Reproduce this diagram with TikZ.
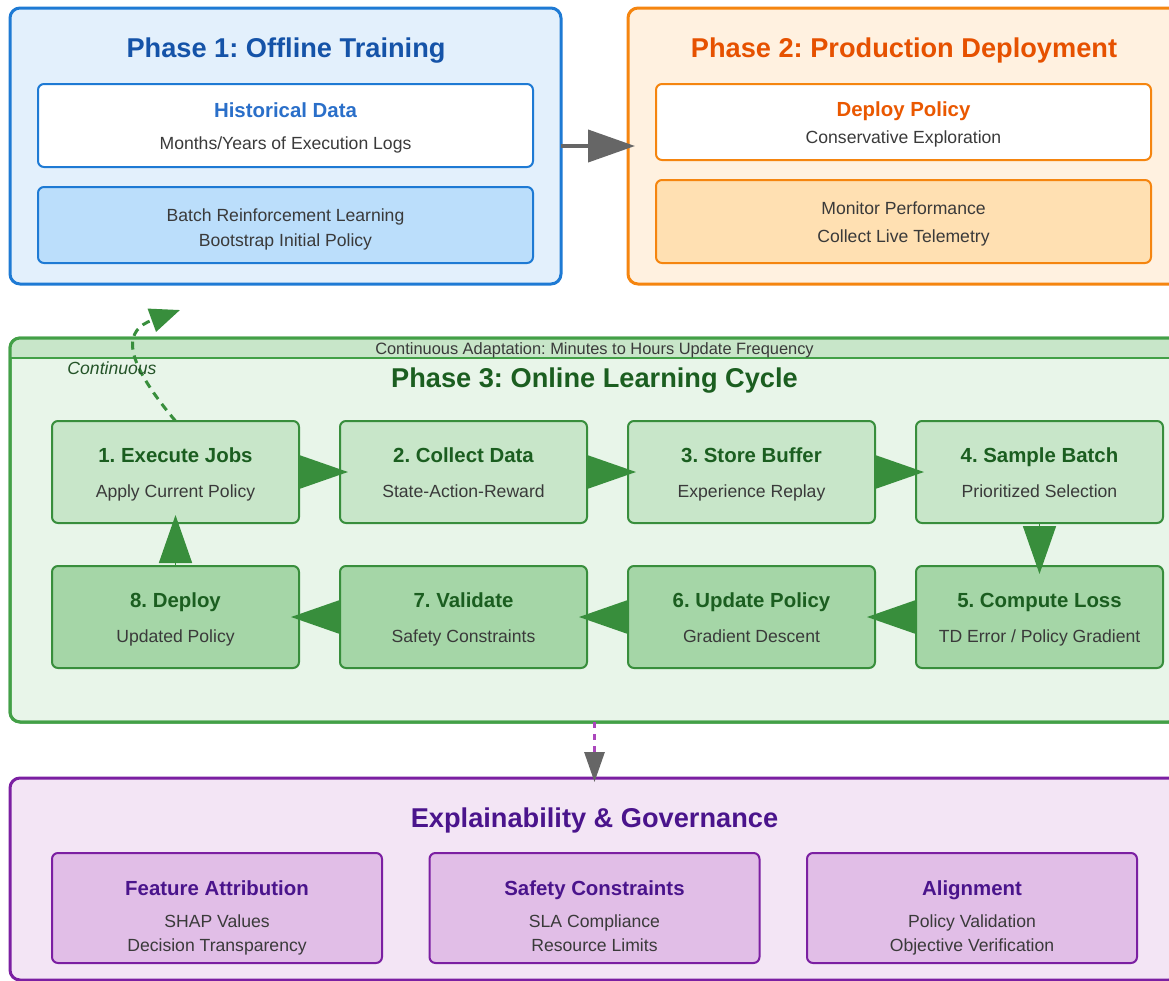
\documentclass[tikz,border=0pt]{standalone}
\usepackage{fontspec}
\setmainfont{Liberation Sans}
\usetikzlibrary{arrows.meta,positioning}
\definecolor{bluebd}{HTML}{1E7AD4}
\definecolor{bluebg}{HTML}{E3F0FC}
\definecolor{bluebox}{HTML}{BBDEFB}
\definecolor{bluetxt}{HTML}{1553A8}
\definecolor{bluesub}{HTML}{2A6FC9}
\definecolor{orabd}{HTML}{F5850F}
\definecolor{orabg}{HTML}{FFF1E0}
\definecolor{orabox}{HTML}{FFE0B2}
\definecolor{oratxt}{HTML}{E65100}
\definecolor{grnbd}{HTML}{43A047}
\definecolor{grnbox}{HTML}{388E3C}
\definecolor{grnbg}{HTML}{E8F5E9}
\definecolor{grnlite}{HTML}{C8E6C9}
\definecolor{grnmid}{HTML}{A5D6A7}
\definecolor{grntxt}{HTML}{1B5E20}
\definecolor{purbd}{HTML}{7B1FA2}
\definecolor{purbg}{HTML}{F3E5F5}
\definecolor{purbox}{HTML}{E1BEE7}
\definecolor{purtxt}{HTML}{4A148C}
\definecolor{purdash}{HTML}{AB47BC}
\definecolor{arrgray}{HTML}{666666}
\definecolor{bodytxt}{HTML}{3A3A3A}
\frenchspacing
\newcommand{\hdfont}{\fontsize{10.2}{12}\selectfont\bfseries}
\newcommand{\cardtitle}[2]{{\hdfont\color{#1}\rule{0pt}{11.4pt}#2\strut}}

\begin{document}
\begin{tikzpicture}[x=0.5pt, y=-0.5pt,
    phase/.style={draw, line width=1.5pt, rounded corners=5pt, inner sep=0pt, outer sep=0pt},
    card/.style={draw, line width=1pt, rounded corners=3pt, inner sep=0pt, outer sep=0pt,
        align=center, text=bodytxt, font=\fontsize{8.8}{12}\selectfont},
    stepbox/.style={card, draw=grnbox, minimum width=123.5pt, minimum height=51pt},
    govbox/.style={card, draw=purbd, fill=purbox, minimum width=165pt, minimum height=55pt},
    govtext/.style={align=center, text=bodytxt, inner sep=0pt, font=\fontsize{8.8}{12}\selectfont},
    ttl/.style={font=\fontsize{13.6}{16}\selectfont\bfseries},
    flow/.style={draw=grnbox, thick, shorten >=-4pt, -{Triangle[length=24pt, width=16.5pt]}}
]
    \useasboundingbox (0,0) rectangle (1169,981);
    \clip (0,0) rectangle (1169,981);
    \fill[white] (0,0) rectangle (1169,981);

    % Phase 1 and Phase 2
    \node[phase, draw=bluebd, fill=bluebg, minimum width=275.5pt, minimum height=138pt] (p1) at (285.5,146) {};
    \node[phase, draw=orabd, fill=orabg, minimum width=276pt, minimum height=138pt] (p2) at (904,146) {};
    \node[ttl, text=bluetxt] (t1) at (286,50.5) {Phase 1: Offline Training};
    \node[ttl, text=oratxt] (t2) at (904,50.5) {Phase 2: Production Deployment};
    \node[card, draw=bluebd, fill=white, minimum width=247.5pt, minimum height=41.5pt] (hist) at (285.5,125.5)
        {\cardtitle{bluesub}{Historical Data}\\[4pt] Months/Years of Execution Logs\strut};
    \node[card, draw=bluebd, fill=bluebox, minimum width=247.5pt, minimum height=38pt] (batch) at (285.5,225)
        {\rule{0pt}{12.4pt}Batch Reinforcement Learning\strut\\[0.5pt] Bootstrap Initial Policy\strut};
    \node[card, draw=orabd, fill=white, minimum width=247.5pt, minimum height=38pt] (dep) at (903.5,122)
        {\cardtitle{oratxt!85!orange}{Deploy Policy}\\[1.5pt] Conservative Exploration\strut};
    \node[card, draw=orabd, fill=orabox, minimum width=247.5pt, minimum height=41.5pt] (mon) at (903.5,221.5)
        {\rule{0pt}{10.4pt}Monitor Performance\strut\\[2pt] Collect Live Telemetry\strut};
    \draw[arrgray, line width=2pt, shorten >=-3.5pt, -{Triangle[length=23.5pt, width=16pt]}] (p1) -- (p2);

    % Phase 3
    \node[phase, draw=grnbd, fill=grnbg, minimum width=584.5pt, minimum height=192pt] (p3) at (594.5,530) {};
    \path (p3.north west) ++(0,20) coordinate (strip);
    \begin{scope}
        \clip[rounded corners=5pt] (p3.south west) rectangle (p3.north east);
        \fill[grnlite] (p3.north west) rectangle (p3.east |- strip);
    \end{scope}
    \draw[grnbd, line width=1pt] (strip) -- (p3.east |- strip);
    \draw[grnbd, line width=1.5pt, rounded corners=5pt] (p3.south west) rectangle (p3.north east);
    \node[font=\fontsize{8.2}{10}\selectfont, text=bodytxt] (freq) at (594.5,350.5)
        {Continuous Adaptation: Minutes to Hours Update Frequency};
    \node[ttl, text=grntxt] (t3) at (594.5,380.5) {Phase 3: Online Learning Cycle};

    \node[stepbox, fill=grnlite] (s1) at (175.5,472) {\cardtitle{grntxt}{1. Execute Jobs}\\[5.5pt] Apply Current Policy\strut};
    \node[stepbox, fill=grnlite, right=20.5pt of s1] (s2) {\cardtitle{grntxt}{2. Collect Data}\\[5.5pt] State-Action-Reward\strut};
    \node[stepbox, fill=grnlite, right=20.5pt of s2] (s3) {\cardtitle{grntxt}{3. Store Buffer}\\[5.5pt] Experience Replay\strut};
    \node[stepbox, fill=grnlite, right=20.5pt of s3] (s4) {\cardtitle{grntxt}{4. Sample Batch}\\[5.5pt] Prioritized Selection\strut};
    \node[stepbox, fill=grnmid, below=21.5pt of s4] (s5) {\cardtitle{grntxt}{5. Compute Loss}\\[5.5pt] TD Error / Policy Gradient\strut};
    \node[stepbox, fill=grnmid, left=20.5pt of s5] (s6) {\cardtitle{grntxt}{6. Update Policy}\\[5.5pt] Gradient Descent\strut};
    \node[stepbox, fill=grnmid, left=20.5pt of s6] (s7) {\cardtitle{grntxt}{7. Validate}\\[5.5pt] Safety Constraints\strut};
    \node[stepbox, fill=grnmid, left=20.5pt of s7] (s8) {\cardtitle{grntxt}{8. Deploy}\\[5.5pt] Updated Policy\strut};
    \foreach \a/\b in {s1/s2, s2/s3, s3/s4, s4/s5, s5/s6, s6/s7, s7/s8, s8/s1} {
        \draw[flow] (\a) -- (\b);
    }

    % feedback to offline training
    \coordinate (back) at (180,310);
    \draw[grnbox, line width=1.5pt, dash pattern=on 4pt off 3pt, -{Triangle[length=15pt, width=12pt]}]
        (s1.north) .. controls (120,355) and (125,330) .. (back);
    \node[font=\fontsize{8.8}{10}\selectfont\itshape, text=grntxt!70!bodytxt] (cont) at (112,368) {Continuous};

    % Explainability
    \node[phase, draw=purbd, fill=purbg, minimum width=584.5pt, minimum height=101pt] (ex) at (594.5,879) {};
    \node[ttl, text=purtxt] (t4) at (594.5,820.5) {Explainability \& Governance};
    \node[govbox] (g1) at (217,908) {};
    \node[govbox] (g2) at (594.5,908) {};
    \node[govbox] (g3) at (972,908) {};
    \node[govtext] (g1t) at ([yshift=-4pt]g1.center) {\cardtitle{purtxt}{Feature Attribution}\\[4pt] SHAP Values\\ Decision Transparency\strut};
    \node[govtext] (g2t) at ([yshift=-4pt]g2.center) {\cardtitle{purtxt}{Safety Constraints}\\[4pt] SLA Compliance\\ Resource Limits\strut};
    \node[govtext] (g3t) at ([yshift=-4pt]g3.center) {\cardtitle{purtxt}{Alignment}\\[4pt] Policy Validation\\ Objective Verification\strut};
    \draw[purdash, line width=1.5pt, dash pattern=on 3pt off 3pt, shorten >=-2pt,
        -{Triangle[length=15pt, width=10pt, color=arrgray]}] (p3) -- (ex);
\end{tikzpicture}
\end{document}
